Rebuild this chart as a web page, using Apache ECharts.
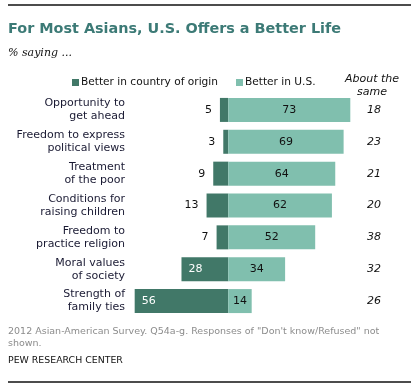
<!DOCTYPE html>
<html>
<head>
<meta charset="utf-8">
<script src="https://cdn.jsdelivr.net/npm/echarts@6/dist/echarts.min.js"></script>
<style>
html,body{margin:0;padding:0;background:#fff;}
#c{width:414px;height:390px;}
</style>
</head>
<body>
<div id="c"></div>
<script>
var categories = ["Opportunity to\nget ahead","Freedom to express\npolitical views","Treatment\nof the poor","Conditions for\nraising children","Freedom to\npractice religion","Moral values\nof society","Strength of\nfamily ties"];
var betterOrigin = [5, 3, 9, 13, 7, 28, 56];
var betterUS = [73, 69, 64, 62, 52, 34, 14];
var aboutSame = [18, 23, 21, 20, 38, 32, 26];

var DARK = '#417868', LIGHT = '#80bfae';
var FONT = 'DejaVu Sans';

var chart = echarts.init(document.getElementById('c'));
chart.setOption({
  animation: false,
  backgroundColor: '#fff',
  textStyle: {fontFamily: FONT},
  title: [{
    text: 'For Most Asians, U.S. Offers a Better Life',
    left: 8, top: 22, padding: 0,
    textStyle: {fontFamily: FONT, fontSize: 14.4, fontWeight: 'bold', color: '#3c7a76'}
  },{
    text: '% saying ...',
    left: 8, top: 48, padding: 0,
    textStyle: {fontFamily: 'DejaVu Serif', fontStyle: 'italic', fontSize: 11, fontWeight: 'normal', color: '#111'}
  },{
    text: 'About the\nsame',
    left: 372, top: 73, padding: 0, textAlign: 'center',
    textStyle: {fontFamily: FONT, fontStyle: 'italic', fontSize: 11, fontWeight: 'normal', color: '#111', lineHeight: 13, align: 'center'}
  },{
    text: '2012 Asian-American Survey. Q54a-g. Responses of "Don\'t know/Refused" not\nshown.',
    left: 8, top: 326, padding: 0,
    textStyle: {fontFamily: FONT, fontSize: 9.5, fontWeight: 'normal', color: '#8c8c8c', lineHeight: 11.5}
  },{
    text: 'PEW RESEARCH CENTER',
    left: 8, top: 356, padding: 0,
    textStyle: {fontFamily: FONT, fontSize: 9.4, fontWeight: 'normal', color: '#111'}
  }],
  legend: {
    left: 67, top: 72,
    itemWidth: 7, itemHeight: 7, itemGap: 18,
    icon: 'rect',
    textStyle: {fontFamily: FONT, fontSize: 10.6, color: '#111', padding: [0,0,0,-3]},
    data: ['Better in country of origin', 'Better in U.S.']
  },
  graphic: [
    {type: 'line', shape: {x1: 8, y1: 5, x2: 411, y2: 5}, style: {stroke: '#111', lineWidth: 1.5}},
    {type: 'line', shape: {x1: 8, y1: 382, x2: 411, y2: 382}, style: {stroke: '#111', lineWidth: 1.5}}
  ],
  grid: {left: 128, right: 52, top: 94, bottom: 73},
  xAxis: {
    type: 'value', min: -60, max: 80, show: false
  },
  yAxis: [{
    type: 'category', inverse: true, data: categories,
    axisLine: {show: false}, axisTick: {show: false},
    axisLabel: {fontFamily: FONT, fontSize: 11, color: '#1a1a33', align: 'right', margin: 3, lineHeight: 13}
  },{
    type: 'category', inverse: true, position: 'right', data: aboutSame,
    axisLine: {show: false}, axisTick: {show: false},
    axisLabel: {fontFamily: FONT, fontSize: 11, fontStyle: 'italic', color: '#111', align: 'center', margin: 12}
  }],
  series: [{
    name: 'Better in country of origin',
    type: 'bar', stack: 'a', barWidth: 24,
    itemStyle: {color: DARK},
    data: betterOrigin.map(function(v){
      var inside = v >= 20;
      return {
        value: -v,
        label: {
          show: true,
          position: inside ? 'insideLeft' : 'left',
          distance: inside ? 7 : 8,
          color: inside ? '#fff' : '#111',
          fontFamily: FONT, fontSize: 11,
          formatter: function(p){ return Math.abs(p.value); }
        }
      };
    })
  },{
    name: 'Better in U.S.',
    type: 'bar', stack: 'a', barWidth: 24,
    itemStyle: {color: LIGHT},
    label: {show: true, position: 'inside', color: '#111', fontFamily: FONT, fontSize: 11},
    data: betterUS
  }]
});
</script>
</body>
</html>
